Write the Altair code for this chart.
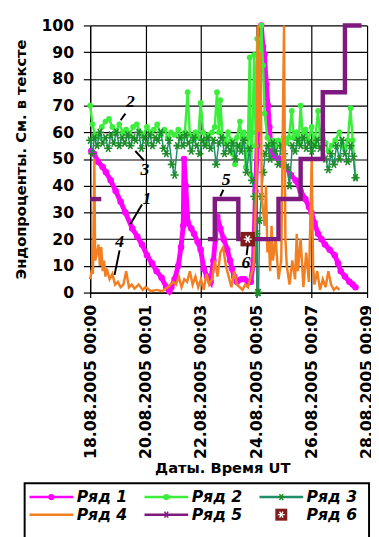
import json
import altair as alt
import pandas as pd

# ---------------- data ----------------
x_labels = ["18.08.2005 00:00", "20.08.2005 00:01", "22.08.2005 00:03",
            "24.08.2005 00:05", "26.08.2005 00:07", "28.08.2005 00:09"]
x_ticks = [0, 2, 4, 6, 8, 10]
y_ticks = list(range(0, 101, 10))

series_names = ["Ряд 1", "Ряд 2", "Ряд 3", "Ряд 4", "Ряд 5", "Ряд 6"]
series_colors = ["#FF00FF", "#3CEE3C", "#1F8F6A", "#F28022", "#7E1A7E", "#801C1C"]
marker_green = "#1E8C2A"

# Ряд 1 (magenta)
s1_day = [0.04, 0.14, 0.28, 0.45, 0.57, 0.74, 0.92, 1.1, 1.27, 1.52, 1.7, 1.87, 2.05, 2.23, 2.4,
          2.58, 2.75, 2.86, 2.93, 3.05, 3.18, 3.28, 3.36, 3.39, 3.45, 3.53, 3.65, 3.75, 3.88, 3.99,
          4.1, 4.22, 4.35, 4.45, 4.52, 4.59, 4.7, 4.82, 4.95, 5.05, 5.12, 5.2, 5.3, 5.45, 5.58,
          5.7, 5.8, 5.9, 5.97, 6.03, 6.08, 6.13, 6.18, 6.24, 6.29, 6.36, 6.42, 6.47, 6.54, 6.68,
          6.82, 6.95, 7.07, 7.25, 7.42, 7.6, 7.77, 7.9, 7.99, 8.1, 8.23, 8.35, 8.48, 8.65, 8.83,
          8.95, 9.05, 9.2, 9.36, 9.48, 9.58]
s1_val = [53, 52, 49, 47, 45, 42, 38, 34, 30, 24, 21, 18, 14, 11, 8,
          5.5, 2, 0.5, 2, 5, 10, 17, 25, 50, 40, 26, 24, 22, 19, 16,
          9, 6, 4, 12, 20, 28.5, 24, 20, 16, 12, 9, 6, 4, 5, 5,
          4, 4, 12, 38, 55, 72, 88, 100, 92, 89, 78, 70, 62, 53, 51,
          50, 48, 47, 44, 42, 38, 35, 32, 30, 26, 22, 20, 18, 16, 14,
          11, 8, 6, 4, 3, 2]

# Ряд 2 (bright green)
s2_day = [0.0, 0.08, 0.18, 0.3, 0.42, 0.55, 0.68, 0.8, 0.92, 1.05, 1.18, 1.3, 1.42, 1.55, 1.68,
          1.8, 1.92, 2.05, 2.18, 2.3, 2.42, 2.55, 2.68, 2.8, 2.92, 3.05, 3.18, 3.3, 3.42, 3.52,
          3.6, 3.7, 3.8, 3.9, 3.99, 4.08, 4.18, 4.28, 4.4, 4.5, 4.58, 4.65, 4.7, 4.78, 4.88,
          4.98, 5.08, 5.15, 5.23, 5.3, 5.41, 5.48, 5.55, 5.62, 5.7, 5.76, 5.8, 5.86, 5.92, 5.98,
          6.03, 6.08, 6.13, 6.18, 6.24, 6.3, 6.4, 6.5, 6.6, 6.7, 6.8, 6.9, 7.0, 7.1, 7.18,
          7.28, 7.35, 7.45, 7.53, 7.6, 7.68, 7.78, 7.88, 8.0, 8.1, 8.23, 8.3, 8.4, 8.5, 8.6,
          8.72, 8.85, 9.0, 9.1, 9.2, 9.3, 9.4, 9.48, 9.58]
s2_val = [70, 63, 59, 58, 62, 64, 65, 62, 60, 63, 60, 61, 59, 62, 63,
          60, 59, 62, 60, 61, 63, 59, 61, 58, 60, 59, 61, 58, 60, 75,
          59, 57, 60, 58, 71, 60, 56, 59, 60, 62, 75, 60, 72, 58, 56,
          60, 57, 52, 48, 58, 64, 55, 60, 47, 58, 88, 44, 60, 89, 55,
          95, 70, 88, 100, 85, 67, 58, 55, 57, 55, 57, 55, 58, 56, 58,
          68, 58, 60, 56, 70, 58, 61, 57, 62, 55, 68, 58, 61, 56, 53,
          55, 57, 60, 55, 54, 57, 69, 57, 43]

# Ряд 3 (dark green, asterisks)
s3_day = [0.0, 0.08, 0.15, 0.25, 0.35, 0.45, 0.55, 0.65, 0.75, 0.85, 0.95, 1.05, 1.15, 1.25, 1.35,
          1.45, 1.55, 1.65, 1.75, 1.85, 1.95, 2.05, 2.15, 2.25, 2.35, 2.45, 2.55, 2.65, 2.75, 2.85,
          2.95, 3.05, 3.15, 3.25, 3.35, 3.45, 3.55, 3.65, 3.75, 3.85, 3.95, 4.05, 4.15, 4.25, 4.35,
          4.45, 4.55, 4.65, 4.75, 4.85, 4.95, 5.05, 5.15, 5.25, 5.35, 5.45, 5.55, 5.65, 5.75, 5.85,
          5.93, 6.0, 6.04, 6.08, 6.12, 6.18, 6.25, 6.32, 6.4, 6.5, 6.6, 6.7, 6.8, 6.9, 7.0,
          7.1, 7.2, 7.3, 7.4, 7.5, 7.6, 7.7, 7.8, 7.9, 8.0, 8.1, 8.2, 8.3, 8.4, 8.5,
          8.6, 8.7, 8.8, 8.9, 9.0, 9.1, 9.2, 9.3, 9.4, 9.5, 9.58]
s3_val = [57, 52, 58, 55, 60, 56, 58, 54, 59, 56, 60, 55, 58, 56, 59,
          55, 58, 57, 60, 54, 58, 56, 59, 55, 58, 57, 60, 54, 52, 57,
          48, 44, 55, 58, 55, 59, 56, 53, 58, 55, 52, 57, 55, 58, 54,
          57, 48, 56, 58, 52, 55, 53, 56, 50, 55, 53, 57, 45, 54, 42,
          36, 22, 0, 0, 27, 36, 45, 52, 55, 50, 56, 53, 48, 55, 52,
          47, 40, 55, 53, 57, 55, 58, 54, 56, 53, 55, 57, 54, 55, 50,
          46, 52, 48, 55, 50, 57, 52, 49, 55, 51, 43]

# Ряд 4 (orange)
s4_day = [0.0, 0.05, 0.1, 0.15, 0.18, 0.25, 0.3, 0.35, 0.4, 0.45, 0.5, 0.55, 0.6, 0.7, 0.8,
          0.9, 1.0, 1.1, 1.2, 1.3, 1.4, 1.5, 1.6, 1.75, 1.9, 2.0, 2.2, 2.4, 2.6, 2.8,
          3.0, 3.1, 3.2, 3.3, 3.4, 3.5, 3.6, 3.7, 3.8, 3.9, 4.0, 4.1, 4.2, 4.3, 4.4,
          4.5, 4.6, 4.7, 4.8, 4.9, 5.0, 5.1, 5.2, 5.3, 5.4, 5.5, 5.6, 5.7, 5.8, 5.9,
          6.0, 6.05, 6.1, 6.15, 6.2, 6.3, 6.35, 6.4, 6.45, 6.5, 6.55, 6.6, 6.7, 6.8, 6.9,
          7.0, 7.05, 7.1, 7.2, 7.3, 7.4, 7.46, 7.5, 7.6, 7.7, 7.8, 7.9, 8.0, 8.05, 8.1,
          8.2, 8.3, 8.4, 8.5, 8.6, 8.7, 8.8, 8.9, 9.0]
s4_val = [5, 8, 7, 50, 12, 15, 18, 10, 17, 8, 12, 6, 9, 5, 7,
          3, 4, 2, 3, 8, 2, 3, 1.5, 3, 1, 2, 0.5, 1, 0.5, 2,
          4, 3, 6, 2, 5, 4, 8, 3, 6, 2, 5, 1, 7, 3, 5,
          12, 6, 15, 17, 10, 6, 2, 8, 3, 2, 1, 3, 2, 6, 10,
          40, 100, 60, 90, 35, 25, 40, 15, 20, 8, 25, 12, 20, 5, 12,
          100, 20, 10, 3, 12, 5, 22, 8, 20, 2, 15, 4, 50, 10, 3,
          8, 1, 5, 2, 8, 3, 1, 2, 1]

# Ряд 5 (purple steps), two pieces
s5_day = [0.0, 0.4, 4.25, 4.5, 5.35, 6.8, 7.6, 8.4, 9.2, 9.8]
s5_val = [35, 35, 20, 35, 20, 35, 50, 75, 100, 100]
s5_piece = [0, 0, 1, 1, 1, 1, 1, 1, 1, 1]

# Ряд 6 (single point)
s6_day = [5.69]
s6_val = [20]

# annotations: label, text position, leader from -> to
ann_text = ["1", "2", "3", "4", "5", "6"]
ann_day = [2.05, 1.45, 1.98, 1.06, 4.91, 5.62]
ann_val = [35, 71.4, 45.8, 18.7, 42, 11]
lead_d1 = [1.87, 1.27, 1.94, 1.06, 4.81, 5.65]
lead_v1 = [33, 67, 49.5, 15.8, 38.5, 14]
lead_d2 = [1.45, 1.1, 1.63, 0.88, 4.7, 5.69]
lead_v2 = [25.6, 64.5, 53, 6.6, 36, 17.6]

# ---------------- frames ----------------
df1 = pd.DataFrame({"day": s1_day, "val": s1_val})
df2 = pd.DataFrame({"day": s2_day, "val": s2_val})
df3 = pd.DataFrame({"day": s3_day, "val": s3_val})
df4 = pd.DataFrame({"day": s4_day, "val": s4_val})
df5 = pd.DataFrame({"day": s5_day, "val": s5_val, "piece": s5_piece})
df6 = pd.DataFrame({"day": s6_day, "val": s6_val})
dfa = pd.DataFrame({"t": ann_text, "day": ann_day, "val": ann_val,
                    "d1": lead_d1, "v1": lead_v1, "d2": lead_d2, "v2": lead_v2})

FONT = "DejaVu Sans"
ASTER = "M-1,0L1,0M-0.5,-0.866L0.5,0.866M-0.5,0.866L0.5,-0.866"

label_expr = json.dumps(x_labels) + "[round(datum.value / 2)]"

XS = alt.Scale(domain=[0, 10], nice=False, zero=False)
YS = alt.Scale(domain=[0, 100], nice=False)
XA = alt.Axis(values=x_ticks, labelExpr=label_expr, labelAngle=270,
              labelOverlap=False, tickSize=5, labelPadding=7,
              titlePadding=2, titleX=135, grid=True)
YA = alt.Axis(values=y_ticks, tickSize=7, labelPadding=10, labelOverlap=False,
              titlePadding=13, grid=True)
XT = "Даты. Время UT"
YT = "Эндопроценты. См. в тексте"


def xe(field):
    return alt.X(field + ":Q", scale=XS, axis=XA, title=XT)


def ye(field):
    return alt.Y(field + ":Q", scale=YS, axis=YA, title=YT)


c = series_colors
l1 = alt.Chart(df1).mark_line(color=c[0], strokeWidth=5).encode(x=xe("day"), y=ye("val"))
p1 = alt.Chart(df1).mark_point(color=c[0], filled=True, shape="circle", size=45, opacity=1).encode(x=xe("day"), y=ye("val"))
l2 = alt.Chart(df2).mark_line(color=c[1], strokeWidth=2.5).encode(x=xe("day"), y=ye("val"))
p2 = alt.Chart(df2).mark_point(color=c[1], filled=True, shape="circle", size=35, opacity=1).encode(x=xe("day"), y=ye("val"))
l3 = alt.Chart(df3).mark_line(color=c[2], strokeWidth=1.5).encode(x=xe("day"), y=ye("val"))
p3 = alt.Chart(df3).mark_point(color=marker_green, filled=False, shape=ASTER, size=70, strokeWidth=1.6, opacity=1).encode(x=xe("day"), y=ye("val"))
l4 = alt.Chart(df4).mark_line(color=c[3], strokeWidth=2.5).encode(x=xe("day"), y=ye("val"))
l5 = alt.Chart(df5).mark_line(color=c[4], strokeWidth=4.5, interpolate="step-after").encode(
    x=xe("day"), y=ye("val"), detail="piece:N")
p6 = alt.Chart(df6).mark_point(color=c[5], filled=True, shape="square", size=220, opacity=1).encode(x=xe("day"), y=ye("val"))
p6s = alt.Chart(df6).mark_point(color="white", filled=False, shape=ASTER, size=70, strokeWidth=1.5, opacity=1).encode(x=xe("day"), y=ye("val"))

lead = alt.Chart(dfa).mark_rule(color="black", strokeWidth=2).encode(
    x=xe("d1"), y=ye("v1"), x2="d2:Q", y2="v2:Q")
atext = alt.Chart(dfa).mark_text(font="Liberation Serif", fontSize=18, fontStyle="italic",
                                 fontWeight="bold", color="black").encode(x=xe("day"), y=ye("val"), text="t:N")

main = alt.layer(l1, p1, l2, p2, l3, p3, l4, l5, p6, p6s, lead, atext)

# ---------------- legend (drawn below the plot) ----------------
leg = pd.DataFrame({"name": series_names})
leg["col"] = [i % 3 for i in range(len(series_names))]
leg["row"] = [i // 3 for i in range(len(series_names))]
leg["kind"] = ["circle", "circle", "aster", "none", "aster", "square"]

LX = alt.Scale(domain=[0, 3], range=[-62, 290.5])
LY = alt.Scale(domain=[0, 1], range=[482, 500])
col_scale = alt.Scale(domain=series_names, range=series_colors)
legend_marker_colors = alt.Scale(domain=series_names,
                                 range=[c[0], c[1], marker_green, c[3], c[4], c[5]])

base = alt.Chart(leg).transform_calculate(x0="datum.col", x1="datum.col + 0.38",
                                          xm="datum.col + 0.19", xt="datum.col + 0.41")
box = alt.Chart(leg).transform_filter("datum.col == 0 && datum.row == 0").mark_rect(
    fillOpacity=0, stroke="black", strokeWidth=2).encode(
    x=alt.value(-67), x2=alt.value(285), y=alt.value(468), y2=alt.value(530))
lrule = base.transform_filter("datum.kind != 'square'").mark_rule(strokeWidth=2.5).encode(
    x=alt.X("x0:Q", scale=LX, axis=None), x2="x1:Q",
    y=alt.Y("row:Q", scale=LY, axis=None),
    color=alt.Color("name:N", scale=col_scale, legend=None))
lcirc = base.transform_filter("datum.kind == 'circle'").mark_point(filled=True, shape="circle", size=40, opacity=1).encode(
    x=alt.X("xm:Q", scale=LX, axis=None), y=alt.Y("row:Q", scale=LY, axis=None),
    color=alt.Color("name:N", scale=legend_marker_colors, legend=None))
last = base.transform_filter("datum.kind == 'aster'").mark_point(filled=False, shape=ASTER, size=50, strokeWidth=1.5, opacity=1).encode(
    x=alt.X("xm:Q", scale=LX, axis=None), y=alt.Y("row:Q", scale=LY, axis=None),
    color=alt.Color("name:N", scale=legend_marker_colors, legend=None))
lsq = base.transform_filter("datum.kind == 'square'").mark_point(filled=True, shape="square", size=150, opacity=1, color=c[5]).encode(
    x=alt.X("xm:Q", scale=LX, axis=None), y=alt.Y("row:Q", scale=LY, axis=None))
lsqs = base.transform_filter("datum.kind == 'square'").mark_point(filled=False, shape=ASTER, size=50, strokeWidth=1.3, color="white", opacity=1).encode(
    x=alt.X("xm:Q", scale=LX, axis=None), y=alt.Y("row:Q", scale=LY, axis=None))
ltext = base.mark_text(align="left", baseline="middle", font=FONT, fontSize=16,
                       fontStyle="italic", fontWeight="bold", color="black").encode(
    x=alt.X("xt:Q", scale=LX, axis=None), y=alt.Y("row:Q", scale=LY, axis=None), text="name:N")

legend = alt.layer(box, lrule, lcirc, last, lsq, lsqs, ltext).resolve_scale(color="independent")

chart = alt.layer(main, legend).resolve_scale(
    x="independent", y="independent", color="independent"
).properties(
    width=283, height=273,
    autosize=alt.AutoSizeParams(type="none"),
    padding={"left": 84, "top": 12, "right": 4, "bottom": 244}
).configure_view(strokeWidth=0).configure_axis(
    gridColor="black", gridOpacity=1, gridWidth=1.2,
    domainColor="black", domainWidth=1.2, tickColor="black", tickWidth=1.2,
    labelFont=FONT, labelFontSize=16, labelFontWeight="bold", labelColor="black",
    titleFont=FONT, titleFontSize=15, titleFontWeight="bold", titleColor="black"
)

chart.save("out.html", embed_options={"renderer": "svg", "actions": False})
